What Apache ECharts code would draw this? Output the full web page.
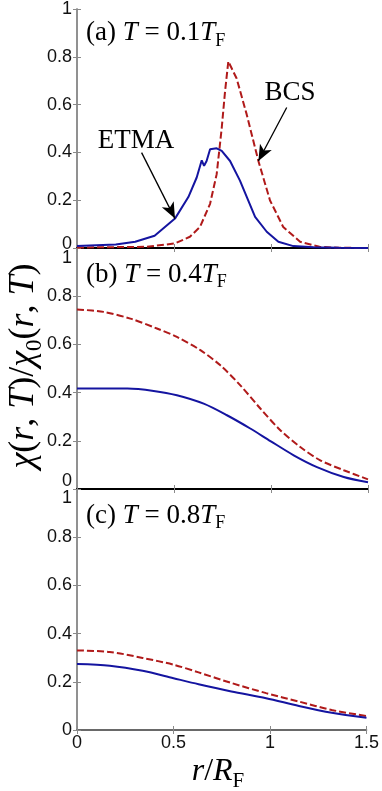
<!DOCTYPE html>
<html>
<head>
<meta charset="utf-8">
<script src="https://cdn.jsdelivr.net/npm/echarts@6/dist/echarts.min.js"></script>
<style>html,body{margin:0;padding:0;background:#fff;}#c{width:382px;height:791px;}</style>
</head>
<body>
<div id="c"></div>
<script>
// ---- data ----
const xTicks = [0, 0.5, 1, 1.5];
const yTicks = [0, 0.2, 0.4, 0.6, 0.8, 1];

const etmaA_r = [0, 0.2, 0.3, 0.4, 0.505, 0.574, 0.617, 0.643, 0.655, 0.668, 0.686, 0.72, 0.746, 0.789, 0.84, 0.918, 0.978, 1.038, 1.115, 1.22, 1.35, 1.5];
const etmaA_v = [0.008, 0.015, 0.026, 0.051, 0.123, 0.213, 0.295, 0.367, 0.344, 0.364, 0.413, 0.417, 0.406, 0.364, 0.282, 0.13, 0.068, 0.026, 0.008, 0.003, 0.001, 0.0];
const bcsA_r = [0, 0.36, 0.505, 0.582, 0.634, 0.686, 0.72, 0.746, 0.763, 0.78, 0.823, 0.875, 0.935, 0.995, 1.063, 1.15, 1.25, 1.35, 1.5];
const bcsA_v = [0.002, 0.005, 0.019, 0.047, 0.088, 0.185, 0.309, 0.502, 0.654, 0.781, 0.709, 0.558, 0.364, 0.199, 0.088, 0.026, 0.005, 0.001, 0.0];

const etmaB_r = [0, 0.26, 0.395, 0.515, 0.653, 0.773, 0.893, 0.997, 1.117, 1.237, 1.375, 1.5];
const etmaB_v = [0.417, 0.417, 0.407, 0.389, 0.354, 0.306, 0.251, 0.199, 0.14, 0.091, 0.05, 0.028];
const bcsB_r = [0, 0.137, 0.275, 0.412, 0.515, 0.636, 0.739, 0.842, 0.945, 1.048, 1.151, 1.254, 1.375, 1.5];
const bcsB_v = [0.745, 0.735, 0.707, 0.666, 0.631, 0.576, 0.513, 0.430, 0.334, 0.244, 0.174, 0.119, 0.078, 0.040];

const rC = [0, 0.17, 0.34, 0.5, 0.63, 0.8, 0.98, 1.15, 1.32, 1.5];
const etmaC_v = [0.274, 0.267, 0.246, 0.215, 0.19, 0.16, 0.132, 0.1, 0.072, 0.051];
const bcsC_v = [0.33, 0.324, 0.299, 0.271, 0.239, 0.195, 0.153, 0.118, 0.083, 0.058];

// annotation arrows (data coords: [start], [tip])
const etmaArrow = [[0.333, 0.399], [0.505, 0.123]];
const bcsArrow = [[1.081, 0.588], [0.935, 0.364]];

const panelLabels = [['(a) ', 'T', ' = 0.1', 'T', 'F'], ['(b) ', 'T', ' = 0.4', 'T', 'F'], ['(c) ', 'T', ' = 0.8', 'T', 'F']];

// ---- chart ----
const SERIF = '"Liberation Serif", "Times New Roman", serif';
const SANS = '"Liberation Sans", Arial, sans-serif';
const BLUE = '#1414a0';
const RED = '#b01a1a';
const GRAY = '#8a8a8a';

const zip = (xs, ys) => xs.map((x, i) => [x, ys[i]]);

const grids = [
  {left: 77, right: 14, top: 6.5, height: 241.5},
  {left: 77, right: 14, top: 248, height: 241},
  {left: 77, right: 14, top: 489, height: 241}
];

const shiftRich = [
  {lo: 8, hi: 0},
  {lo: 16, hi: 20},
  {lo: 0, hi: 18}
];

const xAxes = [], yAxes = [];
grids.forEach((g, i) => {
  xAxes.push({
    gridIndex: i, type: 'value', position: 'top', min: 0, max: 1.5, interval: 0.5,
    axisLine: {show: true, lineStyle: {color: GRAY, width: 1.5}},
    axisTick: {show: true, inside: true, length: 4, lineStyle: {color: GRAY}},
    axisLabel: {show: false}, splitLine: {show: false}
  });
});
grids.forEach((g, i) => {
  xAxes.push({
    gridIndex: i, type: 'value', position: 'bottom', min: 0, max: 1.5, interval: 0.5,
    axisLine: {show: true, lineStyle: {color: i < 2 ? '#000' : '#555', width: i < 2 ? 2 : 1.5}},
    axisTick: {show: true, inside: true, length: 4, lineStyle: {color: GRAY}},
    axisLabel: {show: i === 2, fontFamily: SANS, fontSize: 18, color: '#111', margin: 4,
      formatter: v => String(v)},
    splitLine: {show: false}
  });
});
grids.forEach((g, i) => {
  const s = shiftRich[i];
  yAxes.push({
    gridIndex: i, type: 'value', position: 'left', min: 0, max: 1, interval: 0.2,
    axisLine: {show: true, lineStyle: {color: GRAY, width: 1.5}},
    axisTick: {show: true, inside: true, length: 4, lineStyle: {color: GRAY}},
    axisLabel: {show: true, fontFamily: SANS, fontSize: 18, color: '#111', margin: 5,
      formatter: v => v === 0 ? '{lo|0}' : (v === 1 ? '{hi|1}' : '{n|' + v.toFixed(1) + '}'),
      rich: {
        lo: {fontFamily: SANS, fontSize: 18, color: '#111', padding: [0, 0, s.lo, 0]},
        hi: {fontFamily: SANS, fontSize: 18, color: '#111', padding: [s.hi, 0, 0, 0]},
        n: {fontFamily: SANS, fontSize: 18, color: '#111'}
      }},
    splitLine: {show: false}
  });
  yAxes.push({
    gridIndex: i, type: 'value', position: 'right', min: 0, max: 1, interval: 0.2,
    axisLine: {show: true, lineStyle: {color: GRAY, width: 1.5}},
    axisTick: {show: true, inside: true, length: 4, lineStyle: {color: GRAY}},
    axisLabel: {show: false}, splitLine: {show: false}
  });
});

function line(data, i, color, dashed, smooth, extra) {
  return Object.assign({
    type: 'line', xAxisIndex: 3 + i, yAxisIndex: 2 * i, data: data,
    showSymbol: false, symbol: 'none', smooth: smooth, silent: true,
    lineStyle: {color: color, width: 2, type: dashed ? [7, 3] : 'solid'},
    z: dashed ? 3 : 4
  }, extra || {});
}

function arrow(coords) {
  return {
    silent: true, symbol: ['none', 'arrow'], symbolSize: [10, 16],
    label: {show: false}, emphasis: {disabled: true},
    lineStyle: {color: '#000', width: 1.3, type: 'solid'},
    itemStyle: {color: '#000'},
    data: [[{coord: coords[0]}, {coord: coords[1]}]]
  };
}

const series = [
  line(zip(bcsA_r, bcsA_v), 0, RED, true, false, {markLine: arrow(bcsArrow)}),
  line(zip(etmaA_r, etmaA_v), 0, BLUE, false, false, {markLine: arrow(etmaArrow)}),
  line(zip(bcsB_r, bcsB_v), 1, RED, true, 0.3),
  line(zip(etmaB_r, etmaB_v), 1, BLUE, false, 0.3),
  line(zip(rC, bcsC_v), 2, RED, true, 0.3),
  line(zip(rC, etmaC_v), 2, BLUE, false, 0.3)
];

const richT = {
  n: {fontFamily: SERIF, fontSize: 27, color: '#000', lineHeight: 34},
  i: {fontFamily: SERIF, fontSize: 27, fontStyle: 'italic', color: '#000', lineHeight: 34},
  s: {fontFamily: SERIF, fontSize: 18, color: '#000', verticalAlign: 'bottom', lineHeight: 18}
};

const graphics = [];
grids.forEach((g, i) => {
  const p = panelLabels[i];
  graphics.push({
    type: 'text', left: 86, top: g.top + 13, silent: true,
    style: {text: '{n|' + p[0] + '}{i|' + p[1] + '}{n|' + p[2] + '}{i|' + p[3] + '}{s|' + p[4] + '}', rich: richT}
  });
});
graphics.push({type: 'text', x: 136, y: 141, silent: true,
  style: {text: 'ETMA', fontFamily: SERIF, fontSize: 27, fill: '#000', align: 'center', verticalAlign: 'middle'}});
graphics.push({type: 'text', x: 290, y: 93, silent: true,
  style: {text: 'BCS', fontFamily: SERIF, fontSize: 27, fill: '#000', align: 'center', verticalAlign: 'middle'}});

const richBig = {
  n: {fontFamily: SERIF, fontSize: 32, color: '#000', lineHeight: 40},
  i: {fontFamily: SERIF, fontSize: 32, fontStyle: 'italic', color: '#000', lineHeight: 40},
  s: {fontFamily: SERIF, fontSize: 21, color: '#000', verticalAlign: 'bottom', lineHeight: 21}
};
const richY = {
  n: {fontFamily: SERIF, fontSize: 36, color: '#000', lineHeight: 44},
  i: {fontFamily: SERIF, fontSize: 36, fontStyle: 'italic', color: '#000', lineHeight: 44},
  s: {fontFamily: SERIF, fontSize: 23, color: '#000', verticalAlign: 'bottom', lineHeight: 23}
};
// x-axis title
graphics.push({type: 'text', x: 218, y: 772, silent: true,
  style: {text: '{i|r}{n|/}{i|R}{s|F}', rich: richBig, align: 'center', verticalAlign: 'middle'}});
// y-axis title
graphics.push({type: 'text', x: 24, y: 366, rotation: Math.PI / 2, silent: true,
  style: {text: '{i|χ}{n|(}{i|r}{n|, }{i|T}{n|)/}{i|χ}{s|0}{n|(}{i|r}{n|, }{i|T}{n|)}', rich: richY, align: 'center', verticalAlign: 'middle'}});

const chart = echarts.init(document.getElementById('c'), null, {renderer: 'canvas'});
chart.setOption({
  animation: false,
  backgroundColor: '#fff',
  grid: grids,
  xAxis: xAxes,
  yAxis: yAxes,
  series: series,
  graphic: graphics
});
</script>
</body>
</html>
